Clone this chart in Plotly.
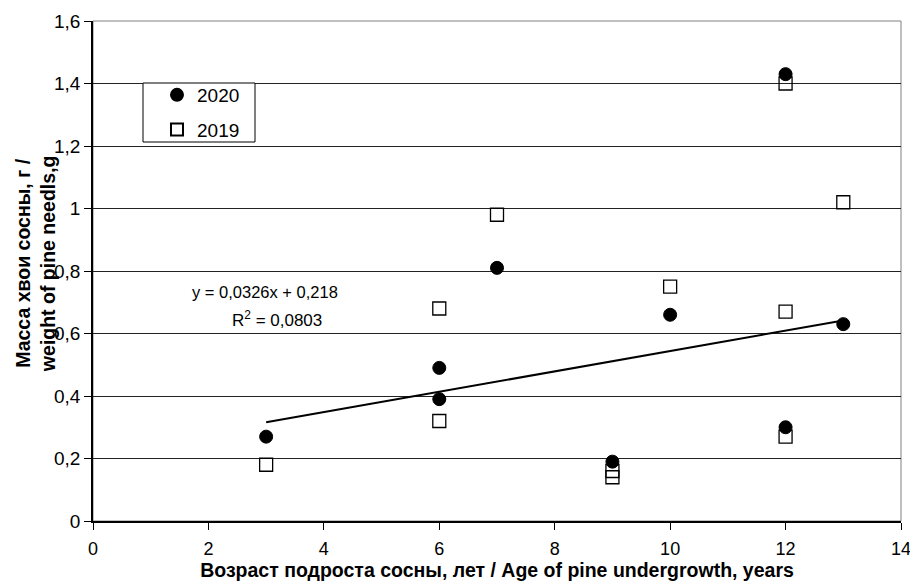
import plotly.graph_objects as go

# Pine undergrowth age (years) and needle mass (g)
age_2020 = [3, 6, 6, 7, 9, 10, 12, 12, 13]
mass_2020 = [0.27, 0.49, 0.39, 0.81, 0.19, 0.66, 1.43, 0.30, 0.63]

age_2019 = [3, 6, 6, 7, 9, 9, 10, 12, 12, 12, 13]
mass_2019 = [0.18, 0.68, 0.32, 0.98, 0.16, 0.14, 0.75, 1.40, 0.67, 0.27, 1.02]

# Linear trend: y = slope * x + intercept
slope = 0.0326
intercept = 0.218
r2 = 0.0803
trend_x = [3, 13]
trend_y = [slope * x + intercept for x in trend_x]

y_ticks = [0, 0.2, 0.4, 0.6, 0.8, 1.0, 1.2, 1.4, 1.6]
y_tick_text = ["0", "0,2", "0,4", "0,6", "0,8", "1", "1,2", "1,4", "1,6"]
x_ticks = [0, 2, 4, 6, 8, 10, 12, 14]

font_family = "Liberation Sans, Arial, sans-serif"

fig = go.Figure()

fig.add_trace(go.Scatter(
    x=age_2020, y=mass_2020, mode="markers", name="2020", legendgroup="a",
    marker=dict(symbol="circle", size=13, color="black",
                line=dict(color="black", width=1)),
))
fig.add_trace(go.Scatter(
    x=age_2019, y=mass_2019, mode="markers", name="2019", legendgroup="b",
    marker=dict(symbol="square-open", size=13, color="black",
                line=dict(color="black", width=1.3)),
))
fig.add_trace(go.Scatter(
    x=trend_x, y=trend_y, mode="lines", showlegend=False,
    line=dict(color="black", width=2),
))

# Trend equation and coefficient of determination
fig.add_annotation(
    x=2.98, y=0.733, xref="x", yref="y",
    text=f"y = {slope:.4f}x + {intercept:.3f}".replace(".", ","),
    showarrow=False, xanchor="center", yanchor="middle",
    font=dict(family=font_family, size=16.5, color="black"),
)
fig.add_annotation(
    x=3.19, y=0.645, xref="x", yref="y",
    text=f"R<sup>2</sup> = {r2:.4f}".replace(".", ","),
    showarrow=False, xanchor="center", yanchor="middle",
    font=dict(family=font_family, size=17, color="black"),
)

# Y-axis title placed close to the tick labels
fig.add_annotation(
    x=-0.071, y=0.515, xref="paper", yref="paper",
    text="<b>Масса хвои сосны, г /<br>weight of pine needls,g</b>",
    textangle=-90, showarrow=False, xanchor="center", yanchor="middle",
    font=dict(family=font_family, size=19.5, color="black"),
)

# Legend frame
fig.add_shape(type="rect", xref="paper", yref="paper",
              x0=0.0619, x1=0.2005, y0=0.758, y1=0.876,
              line=dict(color="black", width=1), fillcolor="white", layer="above")

fig.update_layout(
    width=910, height=581,
    margin=dict(l=93, r=9, t=21, b=60, autoexpand=False),
    paper_bgcolor="white", plot_bgcolor="white",
    font=dict(family=font_family, size=16, color="black"),
    showlegend=True,
    legend=dict(
        x=0.0792, y=0.89, xanchor="left", yanchor="top",
        bgcolor="rgba(0,0,0,0)", borderwidth=0,
        font=dict(family=font_family, size=19, color="black"),
        itemsizing="constant", traceorder="grouped", tracegroupgap=7,
    ),
    xaxis=dict(
        range=[0, 14], tickvals=x_ticks, showgrid=False, zeroline=False,
        showline=True, linecolor="black", linewidth=1.5,
        ticks="outside", ticklen=7, tickcolor="black",
        ticklabeloverflow="allow", ticklabelstandoff=4, automargin=False,
        tickfont=dict(family=font_family, size=18),
        title=dict(text="<b>Возраст подроста сосны, лет / Age of pine undergrowth, years</b>",
                   font=dict(family=font_family, size=19.5), standoff=4),
    ),
    yaxis=dict(
        range=[0, 1.6], tickvals=y_ticks, ticktext=y_tick_text,
        showgrid=True, gridcolor="#222222", gridwidth=1, zeroline=False,
        showline=True, linecolor="black", linewidth=1.5,
        ticks="outside", ticklen=7, tickcolor="black", automargin=False,
        tickfont=dict(family=font_family, size=19),
    ),
)

# Plot area frame on top and right
fig.add_shape(type="rect", xref="paper", yref="paper", x0=0, y0=0, x1=1, y1=1,
              line=dict(color="#808080", width=1), layer="below")

fig.write_html("out.html")
